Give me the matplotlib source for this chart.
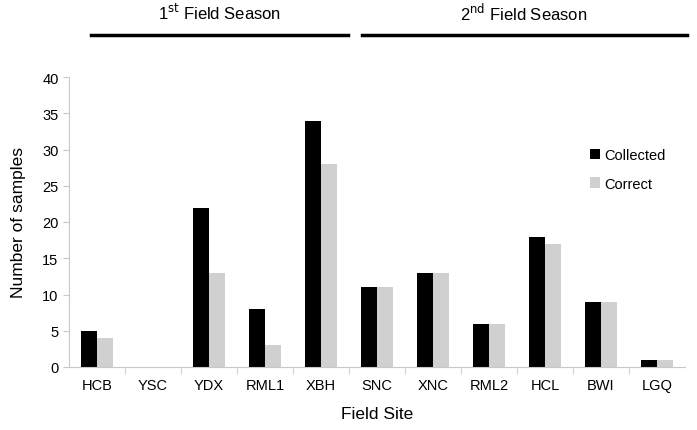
import numpy as np
import matplotlib
matplotlib.use('Agg')
import matplotlib.pyplot as plt

plt.rcParams['font.family'] = ['Liberation Sans', 'DejaVu Sans']

sites = ['HCB', 'YSC', 'YDX', 'RML1', 'XBH', 'SNC', 'XNC', 'RML2', 'HCL', 'BWI', 'LGQ']
collected = [5, 0, 22, 8, 34, 11, 13, 6, 18, 9, 1]
correct = [4, 0, 13, 3, 28, 11, 13, 6, 17, 9, 1]

W, H = 697, 431
fig = plt.figure(figsize=(W / 100, H / 100), dpi=100)
ax = fig.add_axes([69 / W, 1 - 368 / H, 616 / W, 290 / H])

x = np.arange(len(sites))
bw = 0.29
ax.bar(x - bw / 2, collected, bw, color='black', label='Collected')
ax.bar(x + bw / 2, correct, bw, color='#d0d0d0', label='Correct')

ax.set_xlim(-0.5, len(sites) - 0.5)
ax.set_ylim(0, 40)
ax.set_yticks(range(0, 41, 5))
ax.set_xticks(x)
ax.set_xticklabels(sites)
ax.set_xticks(np.arange(0.5, len(sites) - 0.5), minor=True)
ax.tick_params(axis='x', which='major', length=0, pad=8, labelsize=10.5)
ax.tick_params(axis='x', which='minor', length=5, color='#c8c8c8', direction='out')
ax.tick_params(axis='y', length=4, color='#c8c8c8', labelsize=10.5)

for s in ['top', 'right']:
    ax.spines[s].set_visible(False)
for s in ['left', 'bottom']:
    ax.spines[s].set_color('#c8c8c8')

ax.set_ylabel('Number of samples', fontsize=12.5, labelpad=12)
ax.set_xlabel('Field Site', fontsize=12.5, labelpad=10)

ax.legend(loc='upper right', bbox_to_anchor=(0.99, 0.8), frameon=False,
          fontsize=10.5, handlelength=0.7, handleheight=0.7, handletextpad=0.3,
          labelspacing=1.0)

# field season brackets above the plot
fig.add_artist(plt.Line2D([91 / W, 348 / W], [1 - 36 / H] * 2, color='black', lw=2.5))
fig.add_artist(plt.Line2D([362 / W, 687 / W], [1 - 36 / H] * 2, color='black', lw=2.5))
fig.text(220 / W, 1 - 13 / H, r'1$^{\mathrm{st}}$ Field Season', ha='center', va='center', fontsize=12)
fig.text(524 / W, 1 - 13 / H, r'2$^{\mathrm{nd}}$ Field Season', ha='center', va='center', fontsize=12)

fig.savefig('out.png', dpi=100)
